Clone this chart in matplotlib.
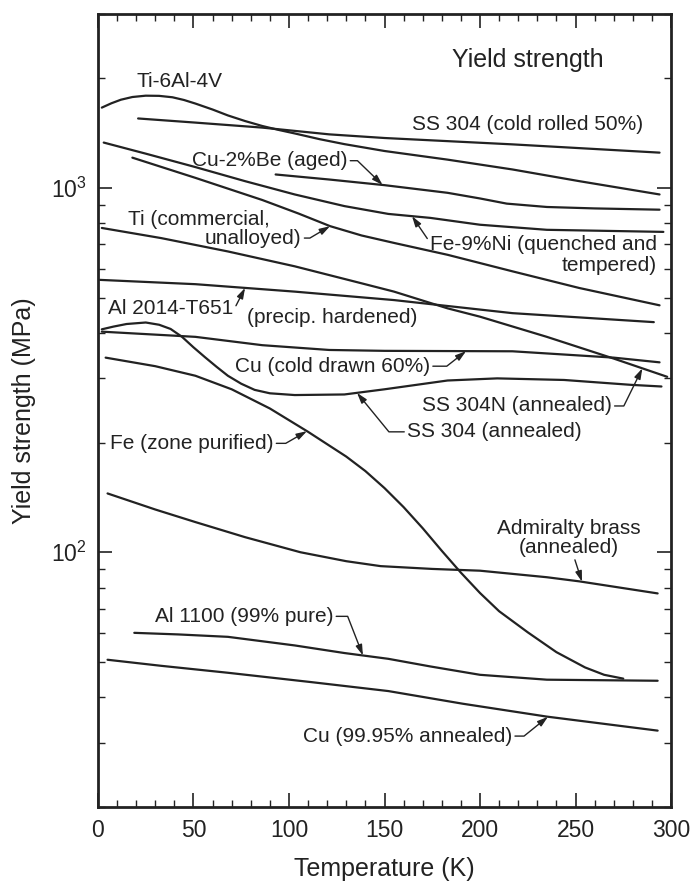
import matplotlib

matplotlib.use("Agg")
import matplotlib.pyplot as plt
import numpy as np
from matplotlib.ticker import FuncFormatter, LogLocator, MultipleLocator, NullFormatter

plt.rcParams["font.family"] = ["Liberation Sans", "DejaVu Sans"]
plt.rcParams["mathtext.fontset"] = "custom"
plt.rcParams["mathtext.rm"] = "Liberation Sans"
plt.rcParams["mathtext.it"] = "Liberation Sans:italic"
plt.rcParams["mathtext.bf"] = "Liberation Sans:bold"

INK = "#222222"

# temperature (K) and yield strength (MPa) along each curve
ti64_T = [2, 7, 12, 18, 25, 32, 39, 45, 51, 60, 68, 77, 86, 95, 103, 116, 129, 150, 183, 217, 252, 294]
ti64_Y = [1660, 1706, 1745, 1775, 1790, 1788, 1772, 1742, 1703, 1640, 1580, 1525, 1478, 1440,
          1410, 1360, 1318, 1262, 1195, 1123, 1043, 959]

ss304cr_T = [21, 51, 86, 121, 150, 217, 294]
ss304cr_Y = [1550, 1510, 1463, 1402, 1370, 1316, 1249]

cube_T = [93, 121, 150, 183, 200, 214, 235, 260, 294]
cube_Y = [1088, 1054, 1017, 969, 935, 905, 886, 878, 871]

fe9ni_T = [3, 25, 51, 77, 103, 129, 152, 174, 200, 235, 296]
fe9ni_Y = [1331, 1241, 1140, 1043, 959, 891, 848, 827, 792, 767, 757]

ticp_T = [18, 51, 86, 105, 121.5, 138, 155.5, 183, 217, 252, 294]
ticp_Y = [1210, 1065, 926, 850, 785, 740, 705, 655, 590, 531, 476]

al2014_T = [1, 51, 103, 155, 217, 252, 291]
al2014_Y = [559, 544, 519, 492, 453, 441, 428]

ss304n_T = [2, 33, 68, 103, 138, 155, 183, 200, 235, 270, 298]
ss304n_Y = [776, 728, 669, 609, 547, 519, 467, 443, 390, 340, 303]

cucd_T = [2, 51, 86, 121, 150, 217, 270, 294]
cucd_Y = [403, 390, 370, 359, 357, 356, 342, 332]

ss304a_T = [2, 8, 15, 25, 32, 38, 44, 50, 56, 62, 68, 75, 82, 90, 103, 129, 150, 183, 209,
            244, 279, 295]
ss304a_Y = [409, 416, 423, 427, 421, 410, 390, 365, 343, 323, 305, 290, 279, 273, 270, 271,
            280, 296, 300, 297, 288, 285]

fezp_T = [4, 30, 51, 70, 90, 110, 130, 140, 150, 160, 170, 180, 190, 200, 210, 225, 240,
          255, 265, 275]
fezp_Y = [342, 324, 305, 280, 248, 214, 183, 167, 150, 133, 116.4, 100.9, 87.9, 77.3, 68.9,
          60.3, 53.2, 48.3, 46.1, 45.0]

adm_T = [5, 30, 51, 77, 106, 130, 148, 175, 200, 235, 252, 293]
adm_Y = [145, 131, 121, 110, 100, 94.5, 91.6, 90, 89, 85.4, 83.2, 77.1]

al1100_T = [19, 42, 68, 103, 129, 152, 174, 200, 235, 293]
al1100_Y = [60.1, 59.5, 58.6, 55.5, 52.9, 51.0, 48.6, 46.1, 44.7, 44.4]

cuann_T = [5, 33, 68, 112, 152, 191, 235, 293]
cuann_Y = [50.7, 48.8, 46.7, 44.0, 41.6, 38.4, 35.4, 32.4]

x_ticks = [0, 50, 100, 150, 200, 250, 300]

curves = [
    (ti64_T, ti64_Y), (ss304cr_T, ss304cr_Y), (cube_T, cube_Y), (fe9ni_T, fe9ni_Y),
    (ticp_T, ticp_Y), (al2014_T, al2014_Y), (ss304n_T, ss304n_Y), (cucd_T, cucd_Y),
    (ss304a_T, ss304a_Y), (fezp_T, fezp_Y), (adm_T, adm_Y), (al1100_T, al1100_Y),
    (cuann_T, cuann_Y),
]


def on_curve(temps, vals, t):
    """Point on a curve at temperature t (log interpolation)."""
    return t, 10 ** np.interp(t, temps, np.log10(vals))


ARROW = "-|>,head_length=0.42,head_width=0.13"


def leader(ax, text, xytext, target, angle, ha="left", relpos=(1, 0.5)):
    ax.annotate(
        text, xy=target, xytext=xytext, ha=ha, va="center", fontsize=15, color=INK,
        arrowprops=dict(arrowstyle=ARROW, color=INK, lw=1.0, shrinkA=0, shrinkB=0,
                        relpos=relpos,
                        connectionstyle=f"angle,angleA=0,angleB={angle},rad=0"),
    )


def label(ax, text, xy, ha="left"):
    ax.text(xy[0], xy[1], text, ha=ha, va="center", fontsize=15, color=INK)


fig = plt.figure(figsize=(6.97, 8.83), dpi=100)
ax = fig.add_axes([0.1406, 0.0861, 0.8221, 0.8981])

for temps, vals in curves:
    ax.plot(temps, vals, color=INK, lw=1.6, solid_capstyle="round", solid_joinstyle="round")

ax.set_yscale("log")
ax.set_xlim(0, 300)
ax.set_ylim(20, 3000)

ax.set_xticks(x_ticks)
ax.xaxis.set_minor_locator(MultipleLocator(10))
ax.yaxis.set_major_locator(LogLocator(base=10))
ax.yaxis.set_minor_locator(LogLocator(base=10, subs=np.arange(2, 10)))
ax.yaxis.set_minor_formatter(NullFormatter())
ax.yaxis.set_major_formatter(FuncFormatter(lambda v, _: f"10$^{{{int(round(np.log10(v)))}}}$"))

ax.tick_params(which="both", direction="in", top=True, right=True, color=INK,
               labelcolor=INK, labelsize=16.5)
ax.tick_params(which="major", length=10, width=1.2)
ax.tick_params(which="minor", length=5, width=1.0)
ax.tick_params(axis="x", pad=9)
ax.tick_params(axis="y", pad=8)
for sp in ax.spines.values():
    sp.set_linewidth(2.0)
    sp.set_color(INK)

ax.set_xlabel("Temperature (K)", fontsize=18, color=INK)
ax.set_ylabel("Yield strength (MPa)", fontsize=18, color=INK)
ax.xaxis.set_label_coords(0.5, -0.063)
ax.yaxis.set_label_coords(-0.108, 0.5)

ax.text(185.3, 2239, "Yield strength", fontsize=18, ha="left", va="center", color=INK)

# curve labels
label(ax, "Ti-6Al-4V", (20.4, 1959))
label(ax, "SS 304 (cold rolled 50%)", (164.4, 1492))
leader(ax, "Cu-2%Be (aged)", (49.2, 1187), on_curve(cube_T, cube_Y, 149), -44)
label(ax, "Ti (commercial,", (15.7, 817))
leader(ax, "unalloyed)", (56.0, 728), on_curve(ticp_T, ticp_Y, 121.5), 30.6)
leader(ax, "Fe-9%Ni (quenched and", (292.7, 697), on_curve(fe9ni_T, fe9ni_Y, 164.4), 124.3,
       ha="right", relpos=(0, 0.5))
label(ax, "tempered)", (292.7, 614), ha="right")

ax.annotate("Al 2014-T651", xy=on_curve(al2014_T, al2014_Y, 77), xytext=(5.2, 467),
            ha="left", va="center", fontsize=15, color=INK,
            arrowprops=dict(arrowstyle=ARROW, color=INK, lw=1.0, shrinkA=0, shrinkB=0,
                            relpos=(1, 0.35)))
label(ax, "(precip. hardened)", (78, 441))
leader(ax, "Cu (cold drawn 60%)", (71.7, 324), on_curve(cucd_T, cucd_Y, 192.7), 38)
leader(ax, "SS 304N (annealed)", (169.6, 252), on_curve(ss304n_T, ss304n_Y, 285), 63.8)
leader(ax, "SS 304 (annealed)", (161.8, 214), on_curve(ss304a_T, ss304a_Y, 135.6), 129.3,
       relpos=(0, 0.5))
leader(ax, "Fe (zone purified)", (6.3, 199), on_curve(fezp_T, fezp_Y, 109.4), 29.9)

label(ax, "Admiralty brass", (246.6, 116), ha="center")
ax.annotate("(annealed)", xy=on_curve(adm_T, adm_Y, 253.4), xytext=(246.6, 103),
            ha="center", va="center", fontsize=15, color=INK,
            arrowprops=dict(arrowstyle=ARROW, color=INK, lw=1.0, shrinkA=0, shrinkB=0,
                            relpos=(0.55, 0)))
leader(ax, "Al 1100 (99% pure)", (29.8, 66.7), on_curve(al1100_T, al1100_Y, 138.7), -68.7)
leader(ax, "Cu (99.95% annealed)", (107.3, 31.3), on_curve(cuann_T, cuann_Y, 235.6), 38.9)

fig.savefig("out.png", dpi=100)
plt.close(fig)
